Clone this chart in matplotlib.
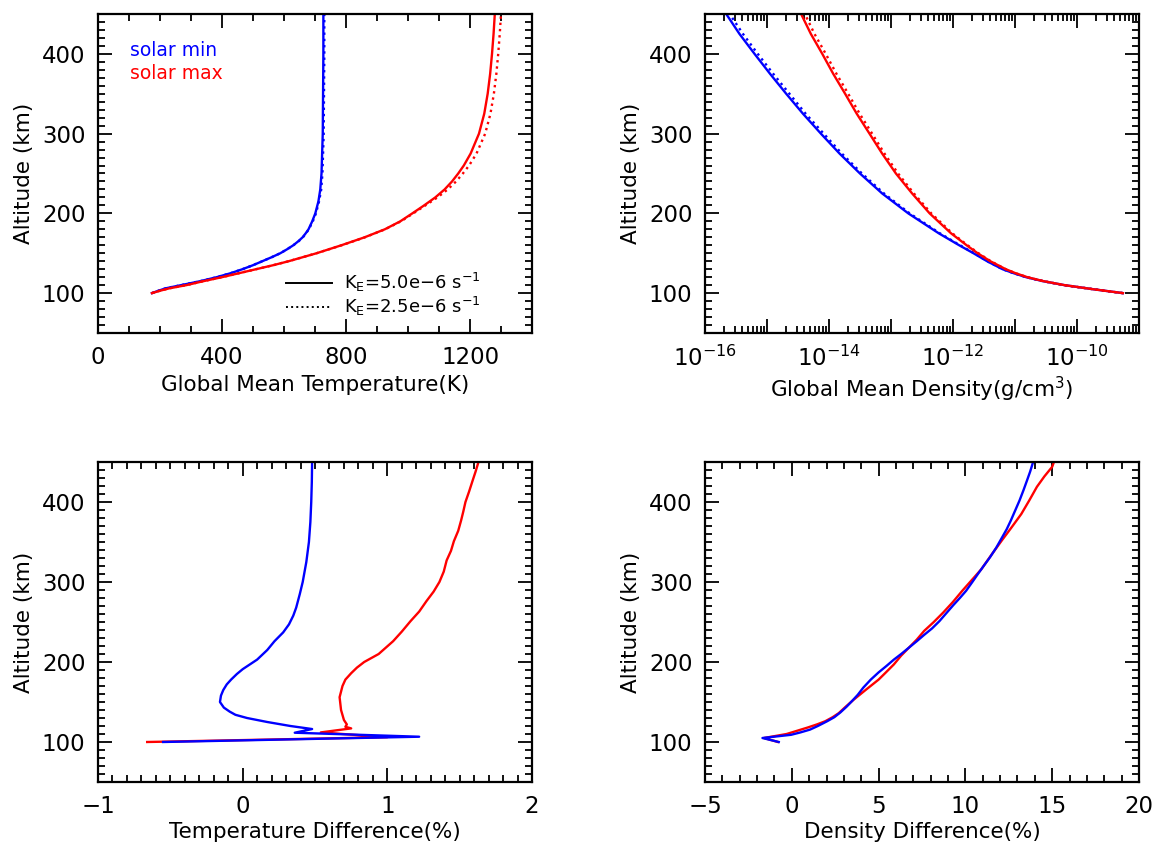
import numpy as np
import matplotlib
matplotlib.use('Agg')
import matplotlib.pyplot as plt
from matplotlib.ticker import MultipleLocator, LogLocator, NullFormatter, FixedLocator

# ---- data ----
# global mean temperature (K)
t_min_alt = [100, 103, 106, 110, 115, 120, 125, 130, 135, 140, 145, 150, 155, 160, 165, 170, 175, 180, 190,
             200, 215, 230, 250, 275, 300, 350, 400, 450]
t_min_solid = [174, 195, 218, 268, 330, 383, 428, 466, 500, 530, 560, 588, 610, 630, 646, 660, 670, 679, 691,
               701, 711, 717, 721, 723, 725, 726, 727, 727]
t_min_dot = [174, 195, 218, 268, 330, 383, 428, 466, 500, 530, 560, 588, 610, 630, 647, 661, 671, 680, 693,
             703, 713, 720, 724, 726, 728, 729, 730, 730]

t_max_alt = [100, 103, 106, 110, 115, 120, 125, 130, 135, 140, 145, 150, 160, 170, 180, 190, 200, 210, 220,
             230, 240, 250, 260, 275, 300, 325, 350, 375, 400, 425, 450]
t_max_solid = [174, 200, 230, 285, 340, 400, 455, 510, 565, 615, 660, 705, 785, 860, 925, 975, 1014, 1052, 1088,
               1118, 1142, 1162, 1180, 1202, 1229, 1246, 1257, 1265, 1271, 1276, 1280]
t_max_dot = [174, 200, 230, 285, 340, 400, 455, 510, 565, 615, 660, 705, 786, 861, 926, 977, 1017, 1056, 1095,
             1128, 1155, 1177, 1197, 1221, 1249, 1266, 1277, 1285, 1291, 1296, 1300]

# global mean density (g/cm^3)
d_alt = [100, 105, 110, 115, 120, 125, 130, 140, 150, 160, 175, 200, 225, 250, 275, 300, 325, 350, 375,
         400, 425, 450]
d_min_solid = [5.5e-10, 1.78e-10, 6.3e-11, 2.82e-11, 1.51e-11, 9.5e-12, 6.3e-12, 3.55e-12, 2.14e-12, 1.26e-12,
               5.9e-13, 1.9e-13, 7.2e-14, 3.16e-14, 1.48e-14, 7.4e-15, 3.8e-15, 2.04e-15, 1.12e-15,
               6.3e-16, 3.6e-16, 2.2e-16]
d_min_dot = [5.5e-10, 1.78e-10, 6.3e-11, 2.82e-11, 1.51e-11, 9.5e-12, 6.3e-12, 3.6e-12, 2.2e-12, 1.3e-12,
             6.15e-13, 2.0e-13, 7.7e-14, 3.4e-14, 1.61e-14, 8.2e-15, 4.2e-15, 2.3e-15, 1.26e-15,
             7.1e-16, 4.1e-16, 2.5e-16]
d_max_solid = [5.5e-10, 1.78e-10, 6.3e-11, 2.88e-11, 1.58e-11, 1.02e-11, 7.1e-12, 4.0e-12, 2.5e-12, 1.66e-12,
               9.3e-13, 4.2e-13, 2.19e-13, 1.2e-13, 7.2e-14, 4.5e-14, 2.8e-14, 1.82e-14, 1.17e-14,
               7.8e-15, 5.1e-15, 3.55e-15]
d_max_dot = [5.5e-10, 1.78e-10, 6.3e-11, 2.88e-11, 1.58e-11, 1.02e-11, 7.1e-12, 4.07e-12, 2.58e-12, 1.72e-12,
             9.75e-13, 4.46e-13, 2.34e-13, 1.3e-13, 7.85e-14, 4.96e-14, 3.12e-14, 2.04e-14, 1.32e-14,
             8.86e-15, 5.84e-15, 4.08e-15]

# temperature difference (%)
td_min_alt = [100, 106.6, 111.6, 116.2, 120, 125, 130, 134, 138, 143, 150, 158, 165, 172, 178, 185, 191,
              203, 215, 226, 237, 247, 258, 268, 285, 300, 325, 350, 375, 400, 425, 450]
td_min = [-0.55, 1.22, 0.36, 0.48, 0.33, 0.17, 0.03, -0.05, -0.09, -0.13, -0.157, -0.15, -0.134, -0.11,
          -0.08, -0.04, 0.0, 0.10, 0.17, 0.22, 0.28, 0.32, 0.35, 0.37, 0.395, 0.415, 0.44, 0.458, 0.468,
          0.474, 0.478, 0.48]
td_max_alt = [100, 106, 112, 117, 119, 122, 127.5, 140, 156, 170, 178, 186, 193, 200, 205, 210, 218, 226,
              238, 251, 263, 276, 288, 300, 313, 327, 339, 351, 364, 377, 388, 400, 413, 427, 438, 450]
td_max = [-0.66, 1.0, 0.54, 0.75, 0.71, 0.72, 0.70, 0.68, 0.67, 0.69, 0.71, 0.75, 0.79, 0.84, 0.89, 0.94,
          0.99, 1.04, 1.10, 1.16, 1.22, 1.27, 1.32, 1.36, 1.39, 1.41, 1.44, 1.46, 1.49, 1.51, 1.525, 1.54,
          1.565, 1.59, 1.61, 1.63]

# density difference (%)
dd_min_alt = [100, 105, 109, 112, 115.5, 120, 126, 131, 137, 144, 151, 159, 168, 178, 187, 195, 203, 210,
              218, 226, 234, 242, 251, 261, 271, 280, 289, 300, 310, 320, 331, 343, 356, 366, 377, 390, 402,
              415, 427, 438, 450]
dd_min = [-0.75, -1.69, -0.04, 0.5, 1.05, 1.5, 2.04, 2.45, 2.8, 3.15, 3.46, 3.8, 4.12, 4.55, 5.0, 5.45, 5.88,
          6.3, 6.75, 7.2, 7.63, 8.08, 8.5, 8.9, 9.3, 9.68, 10.04, 10.4, 10.72, 11.05, 11.42, 11.78, 12.12,
          12.38, 12.62, 12.88, 13.12, 13.35, 13.55, 13.73, 13.9]
dd_max_alt = [100, 105, 110, 114, 118, 122, 126, 131, 136, 144, 153, 165, 178, 187, 197, 208, 218, 228,
              239, 250, 262, 275, 289, 302, 316, 334, 352, 368, 385, 402, 419, 432, 444, 450]
dd_max = [-0.8, -1.6, -0.3, 0.3, 0.9, 1.45, 1.93, 2.35, 2.7, 3.1, 3.57, 4.25, 5.0, 5.42, 5.88, 6.3, 6.75,
          7.2, 7.63, 8.18, 8.73, 9.28, 9.82, 10.35, 10.92, 11.5, 12.1, 12.65, 13.22, 13.68, 14.12, 14.55,
          15.0, 15.1]

BLUE = '#0000ff'
RED = '#ff0000'
LW = 1.7
TICK_FS = 16.5
LABEL_FS = 15.5

plt.rcParams['font.family'] = 'DejaVu Sans'

fig = plt.figure(figsize=(11.55, 8.46), dpi=100)

W, H = 1155.0, 846.0


def make_axes(x0, y0, x1, y1):
    return fig.add_axes([x0 / W, 1 - y1 / H, (x1 - x0) / W, (y1 - y0) / H])


def style(ax):
    ax.set_ylim(50, 450)
    ax.yaxis.set_major_locator(FixedLocator([100, 200, 300, 400]))
    ax.yaxis.set_minor_locator(MultipleLocator(10))
    ax.tick_params(which='both', direction='in', top=True, right=True,
                   labelsize=TICK_FS, color='black', width=1.3)
    ax.tick_params(which='major', length=10, pad=9)
    ax.tick_params(which='minor', length=5)
    for sp in ax.spines.values():
        sp.set_linewidth(1.6)
    ax.set_ylabel('Altitude (km)', fontsize=LABEL_FS, labelpad=6)


ax1 = make_axes(98, 14, 532, 333)
ax2 = make_axes(705, 14, 1139, 333)
ax3 = make_axes(98, 462, 532, 782)
ax4 = make_axes(705, 462, 1139, 782)

# temperature
ax1.plot(t_min_solid, t_min_alt, color=BLUE, lw=LW)
ax1.plot(t_min_dot, t_min_alt, color=BLUE, lw=LW, ls=':')
ax1.plot(t_max_solid, t_max_alt, color=RED, lw=LW)
ax1.plot(t_max_dot, t_max_alt, color=RED, lw=LW, ls=':')
style(ax1)
ax1.set_xlim(0, 1400)
ax1.set_xticks([0, 400, 800, 1200])
ax1.xaxis.set_minor_locator(MultipleLocator(100))
ax1.set_xlabel('Global Mean Temperature(K)', fontsize=LABEL_FS, labelpad=5)
ax1.text(0.074, 0.887, 'solar min', color=BLUE, fontsize=13.5, va='center', transform=ax1.transAxes)
ax1.text(0.074, 0.815, 'solar max', color=RED, fontsize=13.5, va='center', transform=ax1.transAxes)
ax1.plot([0.433, 0.539], [0.158, 0.158], color='black', lw=1.4, transform=ax1.transAxes)
ax1.plot([0.433, 0.539], [0.083, 0.083], color='black', lw=1.4, ls=':', transform=ax1.transAxes)
ax1.text(0.567, 0.158, r'K$_\mathrm{E}$=5.0e$-$6 s$^{-1}$', fontsize=13, va='center', transform=ax1.transAxes)
ax1.text(0.567, 0.083, r'K$_\mathrm{E}$=2.5e$-$6 s$^{-1}$', fontsize=13, va='center', transform=ax1.transAxes)

# density
ax2.plot(d_min_solid, d_alt, color=BLUE, lw=LW)
ax2.plot(d_min_dot, d_alt, color=BLUE, lw=LW, ls=':')
ax2.plot(d_max_solid, d_alt, color=RED, lw=LW)
ax2.plot(d_max_dot, d_alt, color=RED, lw=LW, ls=':')
ax2.set_xscale('log')
style(ax2)
ax2.set_xlim(1e-16, 1e-9)
ax2.set_xticks([10.0 ** k for k in range(-16, -8)])
ax2.set_xticklabels([r'10$^{%d}$' % k if k % 2 == 0 and k <= -10 else '' for k in range(-16, -8)])
ax2.xaxis.set_minor_locator(LogLocator(base=10, subs=np.arange(2, 10), numticks=20))
ax2.xaxis.set_minor_formatter(NullFormatter())
ax2.set_xlabel(r'Global Mean Density(g/cm$^3$)', fontsize=LABEL_FS, labelpad=3)

# temperature difference
ax3.plot(td_max, td_max_alt, color=RED, lw=LW)
ax3.plot(td_min, td_min_alt, color=BLUE, lw=LW)
style(ax3)
ax3.set_xlim(-1, 2)
ax3.set_xticks([-1, 0, 1, 2])
ax3.xaxis.set_minor_locator(MultipleLocator(0.1))
ax3.set_xlabel('Temperature Difference(%)', fontsize=LABEL_FS, labelpad=3)

# density difference
ax4.plot(dd_max, dd_max_alt, color=RED, lw=LW)
ax4.plot(dd_min, dd_min_alt, color=BLUE, lw=LW)
style(ax4)
ax4.set_xlim(-5, 20)
ax4.set_xticks([-5, 0, 5, 10, 15, 20])
ax4.xaxis.set_minor_locator(MultipleLocator(1))
ax4.set_xlabel('Density Difference(%)', fontsize=LABEL_FS, labelpad=3)

fig.savefig('out.png', dpi=100)
